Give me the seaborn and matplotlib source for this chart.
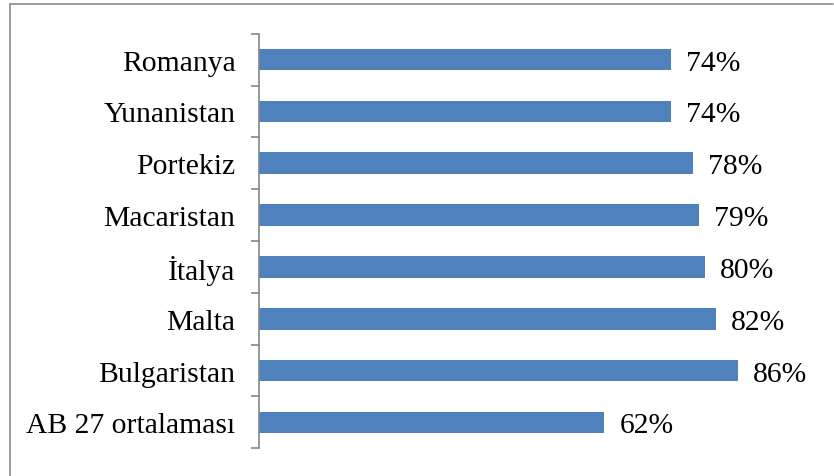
import matplotlib
matplotlib.use("Agg")
import matplotlib.pyplot as plt
from matplotlib.lines import Line2D
import seaborn as sns
import pandas as pd

# data
countries = ["Romanya", "Yunanistan", "Portekiz", "Macaristan",
             "İtalya", "Malta", "Bulgaristan", "AB 27 ortalaması"]
shares = [74, 74, 78, 79, 80, 82, 86, 62]

df = pd.DataFrame({"country": countries, "share": shares})

sns.set_style("white")
plt.rcParams["font.family"] = ["Liberation Serif", "DejaVu Serif"]

W, H = 834, 477
fig = plt.figure(figsize=(W / 100, H / 100), dpi=100)
ax = fig.add_axes([259 / W, 1 - 449.3 / H, 557 / W, (449.3 - 34.7) / H])

sns.barplot(data=df, x="share", y="country", orient="h", color="#4F81BD",
            saturation=1, width=0.42, linewidth=0, ax=ax)

ax.set_xlim(0, 100)
ax.set_ylim(len(countries) - 0.5, -0.5)
ax.set_xlabel("")
ax.set_ylabel("")
ax.set_xticks([])

# value labels
for i, v in enumerate(shares):
    ax.text(v + 15 / 5.57, i, f"{v}%", va="center_baseline", ha="left",
            fontsize=21.3, color="black")

# category labels, ticks between categories
ax.set_yticks(range(len(countries)))
ax.set_yticklabels(countries, fontsize=21.3, color="black",
                   va="center_baseline")
ax.tick_params(axis="y", which="major", length=0, pad=17)
ax.set_yticks([i - 0.5 for i in range(len(countries) + 1)], minor=True)
ax.tick_params(axis="y", which="minor", length=5.8, width=1.2,
               color="#868686", left=True)

for s in ["top", "right", "bottom"]:
    ax.spines[s].set_visible(False)
ax.spines["left"].set_color("#868686")
ax.spines["left"].set_linewidth(1.2)

# outer chart border (cut off at right and bottom)
fig.add_artist(Line2D([10 / W, 10 / W], [0, 1 - 5 / H], transform=fig.transFigure,
                      color="#8c8c8c", lw=1.2))
fig.add_artist(Line2D([10 / W, 833 / W], [1 - 5 / H, 1 - 5 / H], transform=fig.transFigure,
                      color="#8c8c8c", lw=1.2))

fig.savefig("out.png", dpi=100)
